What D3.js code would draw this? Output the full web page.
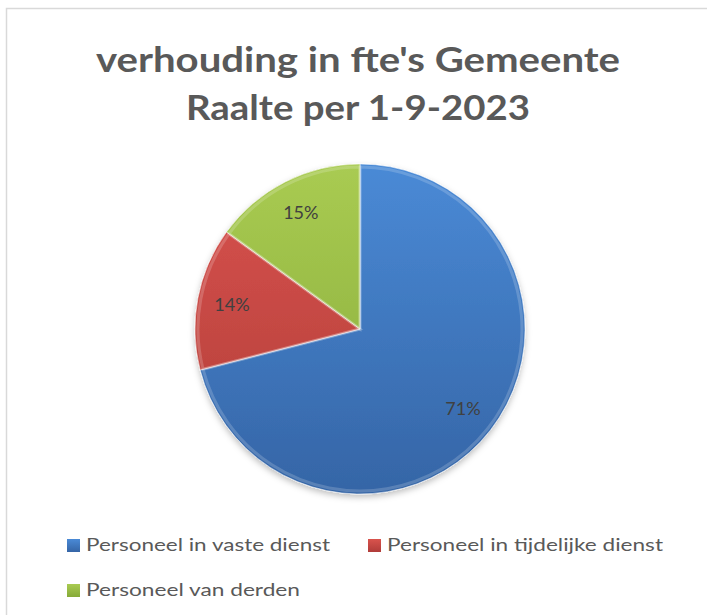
<!DOCTYPE html>
<html>
<head>
<meta charset="utf-8">
<script src="https://cdn.jsdelivr.net/npm/d3@7"></script>
<style>
  html, body { margin: 0; padding: 0; background: #fff; }
  svg { display: block; }
</style>
</head>
<body>
<script>
const titleLines = ["verhouding  in fte's Gemeente", "Raalte per 1-9-2023"];
const categories = ["Personeel in vaste dienst", "Personeel in tijdelijke dienst", "Personeel van derden"];
const values = [71, 14, 15];
const colorsLight = ["#4a8ad6", "#d9534d", "#a9cb52"];
const colorsDark = ["#3565a6", "#b03c39", "#86aa38"];

const W = 707, H = 615;
const svg = d3.select("body").append("svg").attr("width", W).attr("height", H);
const defs = svg.append("defs");

// frame
svg.append("rect").attr("x", 6.5).attr("y", 8.5).attr("width", W + 10).attr("height", H + 10)
  .attr("fill", "#fff").attr("stroke", "#d9d9d9").attr("stroke-width", 1.5);

// title
const title = svg.append("g");
title.selectAll("text").data(titleLines).join("text")
  .attr("x", 358)
  .attr("y", (d, i) => 72 + i * 48)
  .attr("text-anchor", "middle")
  .attr("font-family", "Lato, 'Open Sans', sans-serif")
  .attr("font-weight", "bold")
  .attr("font-size", 34)
  .attr("fill", "#595959")
  .attr("textLength", (d, i) => i === 0 ? 524 : 344)
  .attr("lengthAdjust", "spacingAndGlyphs")
  .text(d => d);

const cx = 360, cy = 329, r = 165;

// gradients
const color = d3.scaleOrdinal().domain(categories).range(d3.range(categories.length));
categories.forEach((c, i) => {
  const g = defs.append("linearGradient").attr("id", "grad" + i)
    .attr("gradientUnits", "userSpaceOnUse")
    .attr("x1", 0).attr("y1", -r).attr("x2", 0).attr("y2", r);
  g.append("stop").attr("offset", "0%").attr("stop-color", colorsLight[i]);
  g.append("stop").attr("offset", "100%").attr("stop-color", colorsDark[i]);
});
const sh = defs.append("filter").attr("id", "shadow").attr("x", "-20%").attr("y", "-20%").attr("width", "140%").attr("height", "140%");
sh.append("feDropShadow").attr("dx", 0).attr("dy", 3).attr("stdDeviation", 3).attr("flood-color", "#000").attr("flood-opacity", 0.25);

const pie = d3.pie().value(d => d.v).sort(null);
const data = categories.map((c, i) => ({ c, v: values[i] }));
const arcs = pie(data);
const arc = d3.arc().innerRadius(0).outerRadius(r);
const innerArc = d3.arc().innerRadius(0).outerRadius(r - 3);
const labelArc = d3.arc().innerRadius(r * 0.79).outerRadius(r * 0.79);
const total = d3.sum(values);

const g = svg.append("g").attr("transform", `translate(${cx},${cy})`);
g.append("g").attr("filter", "url(#shadow)")
  .selectAll("path").data(arcs).join("path")
  .attr("d", arc)
  .attr("fill", d => `url(#grad${color(d.data.c)})`)
  .attr("stroke", "rgba(255,255,255,0.5)")
  .attr("stroke-width", 1);
// subtle bevel highlight
g.append("g").selectAll("path").data(arcs).join("path")
  .attr("d", innerArc)
  .attr("fill", "none")
  .attr("stroke", "rgba(255,255,255,0.18)")
  .attr("stroke-width", 3);

g.selectAll("text.lbl").data(arcs).join("text")
  .attr("class", "lbl")
  .attr("transform", d => `translate(${labelArc.centroid(d)})`)
  .attr("text-anchor", "middle")
  .attr("dy", "0.35em")
  .attr("font-family", "Lato, 'Open Sans', sans-serif")
  .attr("font-size", 18)
  .attr("fill", "#404040")
  .text(d => Math.round(d.data.v / total * 100) + "%");

// legend
const legendPos = [[67, 545], [368, 545], [67, 590]];
const legendW = [244, 276, 214];
const lg = svg.append("g");
categories.forEach((c, i) => {
  const lgr = defs.append("linearGradient").attr("id", "lgrad" + i).attr("x1", 0).attr("y1", 0).attr("x2", 0).attr("y2", 1);
  lgr.append("stop").attr("offset", "0%").attr("stop-color", colorsLight[i]);
  lgr.append("stop").attr("offset", "100%").attr("stop-color", colorsDark[i]);
});
const items = lg.selectAll("g").data(categories).join("g")
  .attr("transform", (d, i) => `translate(${legendPos[i][0]},${legendPos[i][1]})`);
items.append("rect").attr("x", 0).attr("y", -6).attr("width", 13).attr("height", 13)
  .attr("fill", (d, i) => `url(#lgrad${i})`);
items.append("text").attr("x", 19).attr("y", 0).attr("dy", "0.35em")
  .attr("font-family", "Lato, 'Open Sans', sans-serif")
  .attr("font-size", 18)
  .attr("fill", "#595959")
  .attr("textLength", (d, i) => legendW[i])
  .attr("lengthAdjust", "spacingAndGlyphs")
  .text(d => d);
</script>
</body>
</html>
